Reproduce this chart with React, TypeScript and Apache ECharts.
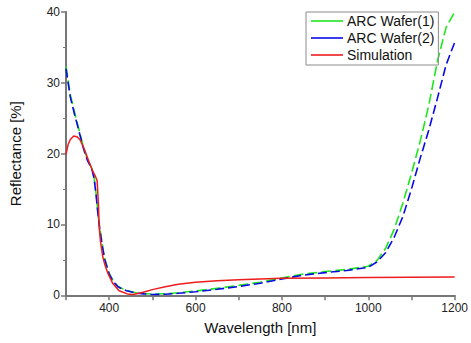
import React, { useEffect, useRef } from "react";
import * as echarts from "echarts";

const measWavelength = [300, 310, 320, 330, 340, 350, 360, 365, 370, 375, 380, 385, 390, 400, 410, 420, 430, 440, 450, 460, 480, 500, 530, 560, 600, 650, 700, 750, 800, 850, 900, 950, 1000, 1020, 1040, 1060, 1080, 1100, 1120, 1140, 1160, 1180, 1200];
const wafer1 = [32.3, 28.3, 25.8, 23.4, 21.0, 19.2, 17.9, 16.7, 14.2, 11.0, 8.8, 6.8, 5.1, 3.1, 2.0, 1.3, 0.95, 0.7, 0.55, 0.4, 0.25, 0.17, 0.22, 0.36, 0.6, 0.98, 1.4, 1.85, 2.45, 3.0, 3.35, 3.65, 4.1, 4.9, 6.6, 9.3, 13.0, 17.2, 21.7, 26.8, 33.0, 37.8, 40.0];
const wafer2 = [32.0, 28.0, 25.5, 23.2, 20.8, 19.0, 17.8, 16.5, 14.0, 10.8, 8.6, 6.6, 5.0, 3.0, 1.9, 1.2, 0.9, 0.65, 0.5, 0.35, 0.2, 0.12, 0.15, 0.28, 0.5, 0.85, 1.25, 1.7, 2.3, 2.85, 3.2, 3.5, 3.95, 4.7, 6.0, 8.2, 11.1, 15.0, 19.3, 23.3, 27.8, 32.5, 35.7];

const simWavelength = [300, 305, 310, 318, 325, 332, 340, 350, 360, 368, 372, 375, 377, 380, 385, 390, 397, 408, 423, 442, 455, 470, 485, 500, 530, 560, 600, 650, 700, 750, 800, 900, 1000, 1100, 1200];
const simulation = [19.9, 21.3, 22.0, 22.5, 22.4, 22.0, 21.0, 19.4, 17.8, 16.8, 16.2, 13.0, 9.5, 7.5, 5.5, 4.3, 3.1, 1.7, 0.65, 0.2, 0.12, 0.3, 0.55, 0.8, 1.2, 1.55, 1.85, 2.05, 2.2, 2.3, 2.4, 2.45, 2.5, 2.55, 2.6];

const seriesNames = ["ARC Wafer(1)", "ARC Wafer(2)", "Simulation"];
const seriesColors = ["#1ee61e", "#0a0ae6", "#ee1c1c"];

const xTickLabels = [400, 600, 800, 1000, 1200];

const pairs = (xs: number[], ys: number[]) => xs.map((x, i) => [x, ys[i]]);

export default function App() {
  const ref = useRef<HTMLDivElement>(null);
  useEffect(() => {
    if (!ref.current) return;
    const chart = echarts.init(ref.current, null, { renderer: "svg" });
    const axisColor = "#777777";
    const font = "Liberation Sans, Arial, sans-serif";
    chart.setOption({
      animation: false,
      textStyle: { fontFamily: font },
      grid: { left: 64.5, right: 13, top: 12, bottom: 47.7 },
      legend: {
        orient: "vertical",
        left: 306,
        top: 12,
        borderColor: "#8a8a8a",
        borderWidth: 1,
        padding: [2, 4, 3, 5],
        itemWidth: 32,
        itemHeight: 14,
        itemGap: 3,
        textStyle: { fontSize: 14, color: "#111", fontFamily: font, padding: [0, 0, 0, -1] },
        data: seriesNames.map((n, i) => ({
          name: n,
          icon: "path://M0,0L32,0L32,1.6L0,1.6Z",
          itemStyle: { color: seriesColors[i] },
        })),
      },
      xAxis: {
        type: "value",
        min: 300,
        max: 1200,
        interval: 100,
        name: "Wavelength [nm]",
        nameLocation: "middle",
        nameGap: 25,
        nameTextStyle: { fontSize: 15, color: "#111", fontFamily: font },
        axisLine: { show: true, onZero: false, lineStyle: { color: axisColor, width: 2 } },
        axisTick: { show: true, inside: false, length: 5, lineStyle: { color: axisColor, width: 1.5 } },
        axisLabel: {
          fontSize: 12,
          color: "#222",
          margin: 7,
          fontFamily: font,
          formatter: (v: number) => (xTickLabels.includes(v) ? String(v) : ""),
        },
        splitLine: { show: false },
      },
      yAxis: {
        type: "value",
        min: 0,
        max: 40,
        interval: 10,
        name: "Reflectance [%]",
        nameLocation: "middle",
        nameGap: 43,
        nameTextStyle: { fontSize: 15, color: "#111", fontFamily: font },
        axisLine: { show: true, lineStyle: { color: axisColor, width: 2 } },
        axisTick: { show: true, inside: false, length: 5, lineStyle: { color: axisColor, width: 1.5 } },
        minorTick: { show: true, splitNumber: 2, length: 3, lineStyle: { color: axisColor, width: 1 } },
        axisLabel: { fontSize: 12, color: "#222", margin: 6, fontFamily: font },
        splitLine: { show: false },
      },
      series: [
        {
          name: seriesNames[0],
          type: "line",
          symbol: "none",
          data: pairs(measWavelength, wafer1),
          lineStyle: { color: seriesColors[0], width: 1.6, type: [10, 4] },
          itemStyle: { color: seriesColors[0] },
        },
        {
          name: seriesNames[1],
          type: "line",
          symbol: "none",
          data: pairs(measWavelength, wafer2),
          lineStyle: { color: seriesColors[1], width: 1.6, type: [9, 4] },
          itemStyle: { color: seriesColors[1] },
        },
        {
          name: seriesNames[2],
          type: "line",
          symbol: "none",
          data: pairs(simWavelength, simulation),
          lineStyle: { color: seriesColors[2], width: 1.5, type: "solid" },
          itemStyle: { color: seriesColors[2] },
        },
      ],
    });
    return () => chart.dispose();
  }, []);
  return (
    <div
      ref={ref}
      style={{ position: "absolute", left: 0, top: 0, width: 471, height: 343 }}
    />
  );
}
